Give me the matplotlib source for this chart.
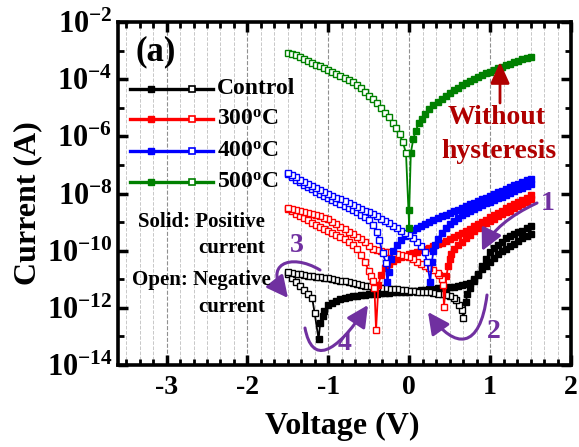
import numpy as np
import matplotlib
matplotlib.use('Agg')
import matplotlib.pyplot as plt
from matplotlib.path import Path
from matplotlib.patches import FancyArrowPatch
from matplotlib.ticker import FixedLocator, MultipleLocator, AutoMinorLocator, FuncFormatter, NullFormatter

plt.rcParams['font.family'] = 'Liberation Serif'
plt.rcParams['font.weight'] = 'bold'
plt.rcParams['mathtext.fontset'] = 'custom'
plt.rcParams['mathtext.rm'] = 'Liberation Serif:bold'
plt.rcParams['mathtext.it'] = 'Liberation Serif:bold'
plt.rcParams['mathtext.bf'] = 'Liberation Serif:bold'

# ---- data: voltage (V) and log10|current (A)|, each sweep branch ----
# current is positive (solid) above the crossing voltage, negative (open) below
# Control
ctl_fwd_v = [-1.50, -1.45, -1.40, -1.35, -1.30, -1.25, -1.20, -1.17, -1.12, -1.10, -1.07, -1.05,
             -1.00, -0.95, -0.90, -0.85, -0.80, -0.75, -0.70, -0.65, -0.60, -0.55, -0.50, -0.45,
             -0.40, -0.35, -0.30, -0.25, -0.20, -0.15, -0.10, -0.05, 0.00, 0.05, 0.10, 0.15,
             0.20, 0.25, 0.30, 0.35, 0.40, 0.45, 0.50, 0.55, 0.60, 0.65, 0.70, 0.75,
             0.80, 0.85, 0.90, 0.95, 1.00, 1.05, 1.10, 1.15, 1.20, 1.25, 1.30, 1.35,
             1.40, 1.45, 1.50]
ctl_fwd_i = [-10.80, -10.95, -11.10, -11.25, -11.38, -11.52, -11.65, -12.17, -13.10, -12.52, -12.30, -12.10,
             -11.90, -11.82, -11.76, -11.70, -11.66, -11.63, -11.60, -11.58, -11.56, -11.54, -11.53, -11.52,
             -11.50, -11.49, -11.48, -11.47, -11.46, -11.45, -11.45, -11.44, -11.43, -11.42, -11.40, -11.38,
             -11.36, -11.35, -11.34, -11.32, -11.31, -11.30, -11.28, -11.26, -11.24, -11.21, -11.18, -11.12,
             -10.98, -10.82, -10.55, -10.28, -10.05, -9.92, -9.80, -9.68, -9.56, -9.48, -9.42, -9.36,
             -9.30, -9.22, -9.15]
ctl_fwd_v0 = -1.14
ctl_bwd_v = [1.50, 1.45, 1.40, 1.35, 1.30, 1.25, 1.20, 1.15, 1.10, 1.05, 1.00, 0.95,
             0.90, 0.85, 0.80, 0.75, 0.72, 0.70, 0.67, 0.65, 0.62, 0.58, 0.55, 0.50,
             0.45, 0.40, 0.35, 0.30, 0.25, 0.20, 0.15, 0.10, 0.05, 0.00, -0.05, -0.10,
             -0.15, -0.20, -0.25, -0.30, -0.35, -0.40, -0.45, -0.50, -0.55, -0.60, -0.65, -0.70,
             -0.75, -0.80, -0.85, -0.90, -0.95, -1.00, -1.05, -1.10, -1.15, -1.20, -1.25, -1.30,
             -1.35, -1.40, -1.45, -1.50]
ctl_bwd_i = [-9.40, -9.48, -9.56, -9.65, -9.75, -9.85, -9.95, -10.02, -10.10, -10.25, -10.40, -10.52,
             -10.65, -10.85, -11.05, -11.30, -11.50, -11.80, -12.35, -12.07, -11.90, -11.72, -11.65, -11.58,
             -11.55, -11.52, -11.50, -11.48, -11.46, -11.45, -11.44, -11.43, -11.41, -11.40, -11.38, -11.36,
             -11.35, -11.34, -11.33, -11.31, -11.30, -11.28, -11.26, -11.24, -11.22, -11.20, -11.17, -11.14,
             -11.10, -11.07, -11.05, -11.02, -11.00, -10.97, -10.95, -10.93, -10.91, -10.89, -10.87, -10.85,
             -10.82, -10.80, -10.77, -10.74]
ctl_bwd_v0 = 0.685

# 300 C
t300_fwd_v = [-1.50, -1.45, -1.40, -1.35, -1.30, -1.25, -1.20, -1.15, -1.10, -1.05, -1.00, -0.95,
              -0.90, -0.85, -0.80, -0.75, -0.70, -0.65, -0.60, -0.55, -0.50, -0.47, -0.45, -0.43,
              -0.41, -0.38, -0.35, -0.30, -0.25, -0.20, -0.15, -0.10, -0.05, 0.00, 0.05, 0.10,
              0.15, 0.20, 0.25, 0.30, 0.35, 0.40, 0.45, 0.50, 0.55, 0.60, 0.65, 0.70,
              0.75, 0.80, 0.85, 0.90, 0.95, 1.00, 1.05, 1.10, 1.15, 1.20, 1.25, 1.30,
              1.35, 1.40, 1.45, 1.50]
t300_fwd_i = [-8.55, -8.62, -8.70, -8.78, -8.86, -8.94, -9.02, -9.10, -9.17, -9.24, -9.30, -9.37,
              -9.44, -9.52, -9.60, -9.70, -9.80, -9.95, -10.15, -10.40, -10.70, -10.90, -11.05, -11.30,
              -12.77, -11.20, -10.85, -10.60, -10.45, -10.35, -10.28, -10.22, -10.17, -10.12, -10.07, -10.03,
              -9.98, -9.94, -9.89, -9.84, -9.78, -9.72, -9.66, -9.60, -9.53, -9.46, -9.39, -9.31,
              -9.23, -9.15, -9.07, -8.99, -8.91, -8.83, -8.75, -8.68, -8.60, -8.52, -8.44, -8.37,
              -8.29, -8.21, -8.14, -8.06]
t300_fwd_v0 = -0.395
t300_bwd_v = [1.50, 1.45, 1.40, 1.35, 1.30, 1.25, 1.20, 1.15, 1.10, 1.05, 1.00, 0.95,
              0.90, 0.85, 0.80, 0.75, 0.70, 0.65, 0.60, 0.55, 0.52, 0.50, 0.48, 0.46,
              0.43, 0.42, 0.40, 0.37, 0.35, 0.30, 0.25, 0.20, 0.15, 0.10, 0.05, 0.00,
              -0.05, -0.10, -0.15, -0.20, -0.25, -0.30, -0.35, -0.40, -0.45, -0.50, -0.55, -0.60,
              -0.65, -0.70, -0.75, -0.80, -0.85, -0.90, -0.95, -1.00, -1.05, -1.10, -1.15, -1.20,
              -1.25, -1.30, -1.35, -1.40, -1.45, -1.50]
t300_bwd_i = [-8.20, -8.28, -8.36, -8.44, -8.52, -8.60, -8.66, -8.73, -8.80, -8.88, -8.96, -9.04,
              -9.12, -9.21, -9.32, -9.44, -9.56, -9.68, -9.80, -9.95, -10.10, -10.30, -10.55, -10.90,
              -11.97, -11.20, -11.00, -10.85, -10.78, -10.68, -10.60, -10.52, -10.45, -10.38, -10.30, -10.22,
              -10.18, -10.14, -10.10, -10.07, -10.05, -10.03, -10.01, -9.98, -9.93, -9.82, -9.70, -9.60,
              -9.51, -9.42, -9.33, -9.25, -9.16, -9.07, -8.98, -8.90, -8.85, -8.80, -8.76, -8.72,
              -8.68, -8.64, -8.60, -8.57, -8.53, -8.50]
t300_bwd_v0 = 0.445

# 400 C
t400_fwd_v = [-1.50, -1.45, -1.40, -1.35, -1.30, -1.25, -1.20, -1.15, -1.10, -1.05, -1.00, -0.95,
              -0.90, -0.85, -0.80, -0.75, -0.70, -0.65, -0.60, -0.55, -0.50, -0.45, -0.40, -0.37,
              -0.33, -0.29, -0.27, -0.25, -0.23, -0.20, -0.15, -0.10, -0.05, 0.00, 0.05, 0.10,
              0.15, 0.20, 0.25, 0.30, 0.35, 0.40, 0.45, 0.50, 0.55, 0.60, 0.65, 0.70,
              0.75, 0.80, 0.85, 0.90, 0.95, 1.00, 1.05, 1.10, 1.15, 1.20, 1.25, 1.30,
              1.35, 1.40, 1.45, 1.50]
t400_fwd_i = [-7.32, -7.42, -7.52, -7.61, -7.70, -7.78, -7.86, -7.94, -8.02, -8.10, -8.17, -8.24,
              -8.31, -8.38, -8.45, -8.52, -8.59, -8.66, -8.74, -8.83, -8.94, -9.10, -9.35, -9.62,
              -10.07, -10.42, -11.10, -10.74, -10.30, -10.00, -9.80, -9.62, -9.50, -9.38, -9.28, -9.20,
              -9.12, -9.05, -8.98, -8.92, -8.86, -8.80, -8.74, -8.68, -8.62, -8.56, -8.50, -8.44,
              -8.38, -8.32, -8.26, -8.20, -8.14, -8.08, -8.02, -7.96, -7.90, -7.84, -7.78, -7.72,
              -7.66, -7.60, -7.54, -7.48]
t400_fwd_v0 = -0.28
t400_bwd_v = [1.50, 1.45, 1.40, 1.35, 1.30, 1.25, 1.20, 1.15, 1.10, 1.05, 1.00, 0.95,
              0.90, 0.85, 0.80, 0.75, 0.70, 0.65, 0.60, 0.55, 0.50, 0.45, 0.40, 0.35,
              0.32, 0.30, 0.28, 0.26, 0.22, 0.19, 0.15, 0.10, 0.05, 0.00, -0.05, -0.10,
              -0.15, -0.20, -0.25, -0.30, -0.35, -0.40, -0.45, -0.50, -0.55, -0.60, -0.65, -0.70,
              -0.75, -0.80, -0.85, -0.90, -0.95, -1.00, -1.05, -1.10, -1.15, -1.20, -1.25, -1.30,
              -1.35, -1.40, -1.45, -1.50]
t400_bwd_i = [-7.68, -7.74, -7.80, -7.86, -7.93, -7.99, -8.05, -8.11, -8.17, -8.22, -8.28, -8.34,
              -8.40, -8.47, -8.54, -8.61, -8.68, -8.76, -8.85, -8.95, -9.07, -9.21, -9.38, -9.60,
              -9.80, -10.00, -10.40, -11.10, -10.40, -10.05, -9.85, -9.68, -9.55, -9.45, -9.38, -9.30,
              -9.22, -9.12, -9.03, -8.95, -8.88, -8.80, -8.73, -8.66, -8.60, -8.53, -8.46, -8.39,
              -8.32, -8.26, -8.20, -8.14, -8.08, -8.02, -7.95, -7.88, -7.81, -7.74, -7.66, -7.59,
              -7.52, -7.44, -7.36, -7.28]
t400_bwd_v0 = 0.24

# 500 C (no hysteresis)
t500_v = [-1.50, -1.45, -1.40, -1.35, -1.30, -1.25, -1.20, -1.15, -1.10, -1.05, -1.00, -0.95,
          -0.90, -0.85, -0.80, -0.75, -0.70, -0.65, -0.60, -0.55, -0.50, -0.45, -0.40, -0.35,
          -0.30, -0.25, -0.20, -0.16, -0.12, -0.08, -0.04, 0.00, 0.00, 0.02, 0.05, 0.08,
          0.12, 0.16, 0.20, 0.25, 0.30, 0.35, 0.40, 0.45, 0.50, 0.55, 0.60, 0.65,
          0.70, 0.75, 0.80, 0.85, 0.90, 0.95, 1.00, 1.05, 1.10, 1.15, 1.20, 1.25,
          1.30, 1.35, 1.40, 1.45, 1.50]
t500_i = [-3.08, -3.12, -3.17, -3.22, -3.28, -3.35, -3.42, -3.49, -3.55, -3.62, -3.68, -3.75,
          -3.82, -3.90, -3.97, -4.04, -4.11, -4.20, -4.32, -4.45, -4.58, -4.70, -4.84, -5.00,
          -5.17, -5.33, -5.52, -5.72, -5.93, -6.20, -6.58, -9.20, -8.57, -6.58, -6.10, -5.80,
          -5.55, -5.38, -5.22, -5.06, -4.92, -4.80, -4.68, -4.58, -4.48, -4.39, -4.30, -4.22,
          -4.14, -4.07, -4.00, -3.93, -3.86, -3.80, -3.74, -3.68, -3.62, -3.56, -3.51, -3.46,
          -3.41, -3.36, -3.31, -3.26, -3.21]
t500_v0 = -0.01

labels = ['Control', r'300$^\mathregular{o}$C', r'400$^\mathregular{o}$C', r'500$^\mathregular{o}$C']
colors = ['black', '#ff0000', '#0000ff', '#008000']
devices = [
    [(ctl_fwd_v, ctl_fwd_i, ctl_fwd_v0), (ctl_bwd_v, ctl_bwd_i, ctl_bwd_v0)],
    [(t300_fwd_v, t300_fwd_i, t300_fwd_v0), (t300_bwd_v, t300_bwd_i, t300_bwd_v0)],
    [(t400_fwd_v, t400_fwd_i, t400_fwd_v0), (t400_bwd_v, t400_bwd_i, t400_bwd_v0)],
    [(t500_v, t500_i, t500_v0)],
]

W, H = 579, 447
def fp(px, py):
    return (px / W, 1 - py / H)

fig = plt.figure(figsize=(W / 100, H / 100), dpi=100)
ax = fig.add_axes([118 / W, 1 - 365 / H, 453 / W, 343 / H])
ax.set_yscale('log')

z = 2
for branches, c in zip(devices, colors):
    v_all = np.concatenate([np.array(b[0]) for b in branches])
    i_all = 10.0 ** np.concatenate([np.array(b[1]) for b in branches])
    ax.plot(v_all, i_all, '-', color=c, lw=1.3, zorder=z)
    for bv, bi, v0 in branches:
        bv = np.array(bv); bi = 10.0 ** np.array(bi)
        m = bv > v0
        ax.plot(bv[m], bi[m], 's', ls='none', ms=5.0, mfc=c, mec=c, mew=1.0, zorder=z + 0.1)
    for bv, bi, v0 in branches:
        bv = np.array(bv); bi = 10.0 ** np.array(bi)
        m = bv <= v0
        ax.plot(bv[m], bi[m], 's', ls='none', ms=5.0, mfc='white', mec=c, mew=1.0, zorder=z + 0.2)
    z += 1

ax.set_xlim(-3.6, 2.0)
ax.set_ylim(1e-14, 1e-2)
ax.xaxis.set_major_locator(MultipleLocator(1))
ax.xaxis.set_minor_locator(AutoMinorLocator(6))
ax.yaxis.set_major_locator(FixedLocator(10.0 ** np.arange(-14, -1, 2)))
ax.yaxis.set_minor_locator(FixedLocator(10.0 ** np.arange(-13, -2, 2)))
ax.yaxis.set_major_formatter(FuncFormatter(lambda y, p: r'$\mathregular{10^{%d}}$' % round(np.log10(y))))
ax.yaxis.set_minor_formatter(NullFormatter())
ax.xaxis.set_major_formatter(FuncFormatter(lambda x, p: '%d' % round(x)))

ax.grid(True, which='major', axis='x', ls='--', color='#909090', lw=0.8)
ax.grid(True, which='minor', axis='x', ls='--', color='#c8c8c8', lw=0.7)
ax.set_axisbelow(True)
ax.tick_params(which='both', direction='in', top=True, right=True)
ax.tick_params(which='major', length=7, width=2.5)
ax.tick_params(which='minor', length=4.5, width=2)
ax.tick_params(axis='x', labelsize=20, pad=7)
ax.tick_params(axis='y', labelsize=22, pad=4)
for s in ax.spines.values():
    s.set_linewidth(2.6)

fig.text(*fp(28, 203), 'Current (A)', rotation=90, ha='center', va='center', fontsize=23)
fig.text(*fp(342, 426), 'Voltage (V)', ha='center', va='center', fontsize=23)

# legend
leg_y = [89, 119, 151, 182]
for lab, c, yy in zip(labels, colors, leg_y):
    x0, y0 = fp(130, yy)
    x1, _ = fp(213, yy)
    fig.add_artist(plt.Line2D([x0, x1], [y0, y0], color=c, lw=2.4, transform=fig.transFigure))
    fig.add_artist(plt.Line2D([fp(151, yy)[0]], [y0], marker='s', ms=5, mfc=c, mec=c, mew=1,
                              transform=fig.transFigure))
    fig.add_artist(plt.Line2D([fp(192, yy)[0]], [y0], marker='s', ms=5, mfc='white', mec=c, mew=1.2,
                              transform=fig.transFigure))
    fig.text(*fp(217, yy), lab, ha='left', va='center', fontsize=17)

fig.text(*fp(156, 52), '(a)', ha='center', va='center', fontsize=25)
fig.text(*fp(138, 222), 'Solid: Positive', ha='left', va='center', fontsize=15)
fig.text(*fp(198, 248), 'current', ha='left', va='center', fontsize=15)
fig.text(*fp(132, 280), 'Open: Negative', ha='left', va='center', fontsize=15)
fig.text(*fp(198, 307), 'current', ha='left', va='center', fontsize=15)

dark_red = '#b00000'
fig.text(*fp(497, 118), 'Without', ha='center', va='center', fontsize=20, color=dark_red)
fig.text(*fp(499, 152), 'hysteresis', ha='center', va='center', fontsize=20, color=dark_red)
fig.add_artist(FancyArrowPatch(fp(500, 103), fp(500, 62), transform=fig.transFigure,
                               arrowstyle='-|>,head_length=1.0,head_width=0.45', mutation_scale=13,
                               color=dark_red, lw=2, shrinkA=0, shrinkB=0))

purple = '#7030a0'
curves = [
    ([(537, 203), (496, 222), (482, 251)], [Path.MOVETO, Path.CURVE3, Path.CURVE3]),
    ([(487, 295), (480, 350), (455, 350), (428, 312)], [Path.MOVETO, Path.CURVE4, Path.CURVE4, Path.CURVE4]),
    ([(320, 270), (290, 252), (262, 265), (288, 298)], [Path.MOVETO, Path.CURVE4, Path.CURVE4, Path.CURVE4]),
    ([(305, 328), (312, 365), (335, 355), (368, 305)], [Path.MOVETO, Path.CURVE4, Path.CURVE4, Path.CURVE4]),
]
for pts, codes in curves:
    pth = Path([fp(*p) for p in pts], codes)
    fig.add_artist(FancyArrowPatch(path=pth, transform=fig.transFigure,
                                   arrowstyle='-|>,head_length=1.0,head_width=0.5', mutation_scale=13,
                                   color=purple, lw=2.2))
for txt, (px, py) in zip(['1', '2', '3', '4'], [(548, 204), (494, 331), (297, 246), (345, 343)]):
    fig.text(*fp(px, py), txt, ha='center', va='center', fontsize=20, color=purple)

fig.savefig('out.png', dpi=100)
